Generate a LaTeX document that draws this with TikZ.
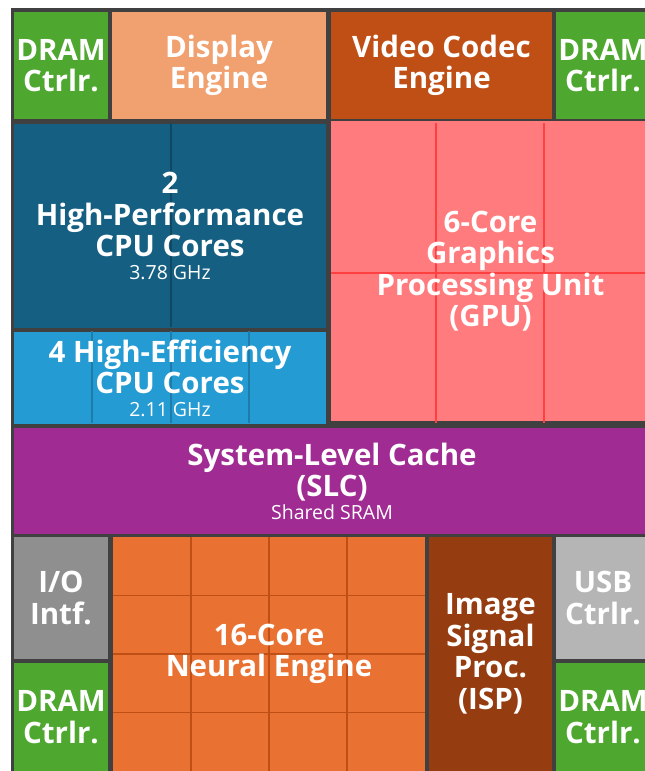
\documentclass[tikz,border=0pt]{standalone}
\usepackage{fontspec}
\setmainfont{Open Sans}
\usepackage{tikz}
\usetikzlibrary{shapes}
\pgfdeclarelayer{background}
\pgfdeclarelayer{cells}
\pgfsetlayers{background,cells,main}
\definecolor{frame}{HTML}{404040}
\definecolor{dramgreen}{HTML}{4EA72E}
\definecolor{display}{HTML}{F1A06F}
\definecolor{video}{HTML}{C04F15}
\definecolor{hpblue}{HTML}{156082}
\definecolor{effblue}{HTML}{249BD3}
\definecolor{gpured}{HTML}{FF7B7D}
\definecolor{slcpurple}{HTML}{A02B93}
\definecolor{iogray}{HTML}{8F8F8F}
\definecolor{usbgray}{HTML}{B5B5B5}
\definecolor{npuorange}{HTML}{E97132}
\definecolor{ispbrown}{HTML}{953C10}
\tikzstyle{block}=[rectangle,inner sep=0pt,align=center,text=white,font=\bfseries\fontsize{29.5}{31.5}\selectfont]
\tikzstyle{cell line}=[line width=1.2pt]
\newcommand{\subtxt}[1]{{\mdseries\fontsize{19.5}{22}\selectfont #1}}

\begin{document}
\begin{tikzpicture}[x=1pt,y=-1pt]
    \useasboundingbox (0,0) rectangle (645,771);
    \clip (0,0) rectangle (645,771);
    % Top row
    \node[block,minimum width=94pt,minimum height=107pt] (dramA) at (61,65.5) {DRAM\\Ctrlr.};
    \node[block,minimum width=214pt,minimum height=107pt] (disp) at (219,65.5) {Display\\Engine};
    \node[block,minimum width=221pt,minimum height=107pt] (vcodec) at (441.5,65.5) {Video Codec\\Engine};
    \node[block,minimum width=94pt,minimum height=107pt] (dramB) at (603,65.5) {DRAM\\Ctrlr.};
    % CPU clusters and GPU
    \node[block,minimum width=312pt,minimum height=204pt] (pcpu) at (170,226) {2\\High-Performance\\CPU Cores\\[-9pt]\subtxt{3.78 GHz}};
    \node[block,minimum width=312pt,minimum height=92pt] (ecpu) at (170,378) {4 High-Efficiency\\CPU Cores\\[-9pt]\subtxt{2.11 GHz}};
    \node[block,minimum width=319pt,minimum height=300pt] (gpu) at (490.5,271) {6-Core\\Graphics\\Processing Unit\\(GPU)};
    % Cache
    \node[block,minimum width=636pt,minimum height=106pt] (slc) at (332,481) {System-Level Cache\\(SLC)\\[-9pt]\subtxt{Shared SRAM}};
    % Bottom row
    \node[block,minimum width=94pt,minimum height=122pt] (io) at (61,598) {I/O\\Intf.};
    \node[block,minimum width=94pt,minimum height=108pt] (dramC) at (61,717) {DRAM\\Ctrlr.};
    \node[block,minimum width=312pt,minimum height=234pt] (npu) at (269,654) {16-Core\\Neural Engine};
    \node[block,minimum width=123pt,minimum height=234pt] (isp) at (490.5,654) {Image\\Signal\\Proc.\\(ISP)};
    \node[block,minimum width=94pt,minimum height=122pt] (usb) at (603,598) {USB\\Ctrlr.};
    \node[block,minimum width=94pt,minimum height=108pt] (dramD) at (603,717) {DRAM\\Ctrlr.};

    % Fill the blocks behind their texts
    \begin{pgfonlayer}{background}
        \fill[frame] (11,8) rectangle (650,771);
        \foreach \name/\col in {dramA/dramgreen, disp/display, vcodec/video, dramB/dramgreen, pcpu/hpblue, ecpu/effblue, gpu/gpured, slc/slcpurple, io/iogray, dramC/dramgreen, npu/npuorange, isp/ispbrown, usb/usbgray, dramD/dramgreen}
            \fill[\col] (\name.north west) rectangle (\name.south east);
    \end{pgfonlayer}

    % Core subdivisions
    \begin{pgfonlayer}{cells}
        \draw[cell line,hpblue!75!black] (171,123) -- (171,327);
        \foreach \x in {92,171,249}
            \draw[cell line,effblue!80!black] (\x,331) -- (\x,423);
        \foreach \x in {436,544}
            \draw[cell line,red!75!white] (\x,123) -- (\x,423);
        \draw[cell line,red!75!white] (331,273) -- (650,273);
        \foreach \x in {191,269,347}
            \draw[cell line,video] (\x,537) -- (\x,771);
        \foreach \y in {595.5,654,712.5}
            \draw[cell line,video] (113,\y) -- (425,\y);
    \end{pgfonlayer}
\end{tikzpicture}
\end{document}
